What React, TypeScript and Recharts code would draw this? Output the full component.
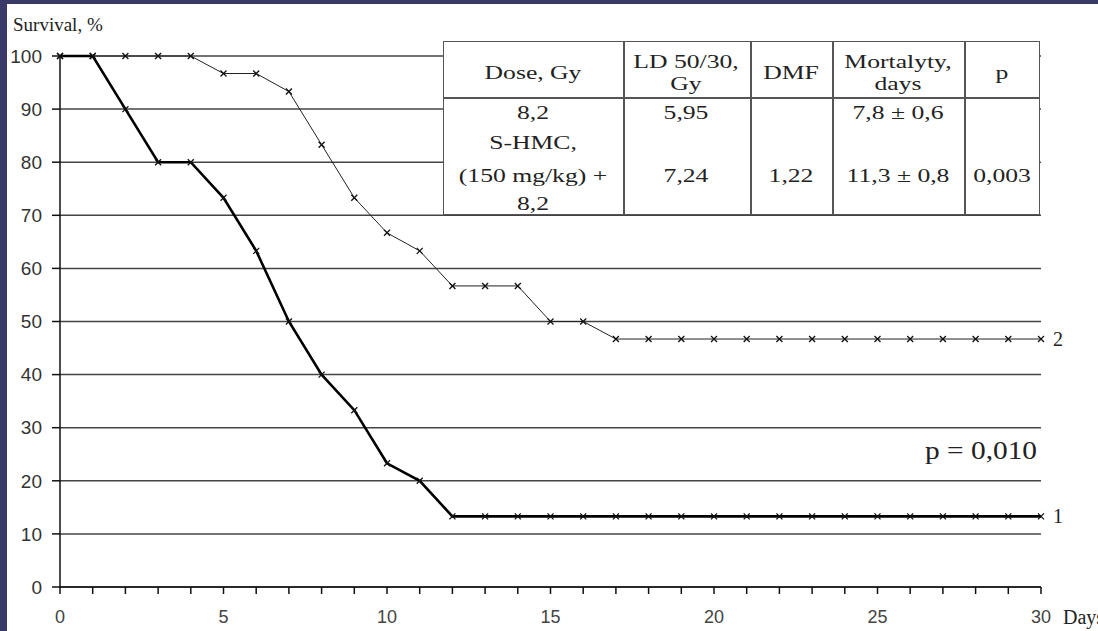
import { CartesianGrid, Line, LineChart, XAxis, YAxis } from "recharts";

const days = [
  0, 1, 2, 3, 4, 5, 6, 7, 8, 9, 10, 11, 12, 13, 14, 15, 16, 17, 18, 19, 20, 21,
  22, 23, 24, 25, 26, 27, 28, 29, 30,
];

// curve 1: 8,2 Gy alone
const survivalControl = [
  100, 100, 90, 80, 80, 73.3, 63.3, 50, 40, 33.3, 23.3, 20, 13.3, 13.3, 13.3,
  13.3, 13.3, 13.3, 13.3, 13.3, 13.3, 13.3, 13.3, 13.3, 13.3, 13.3, 13.3, 13.3,
  13.3, 13.3, 13.3,
];

// curve 2: S-HMC (150 mg/kg) + 8,2 Gy
const survivalShmc = [
  100, 100, 100, 100, 100, 96.7, 96.7, 93.3, 83.3, 73.3, 66.7, 63.3, 56.7, 56.7,
  56.7, 50, 50, 46.7, 46.7, 46.7, 46.7, 46.7, 46.7, 46.7, 46.7, 46.7, 46.7, 46.7,
  46.7, 46.7, 46.7,
];

const yTicks = [0, 10, 20, 30, 40, 50, 60, 70, 80, 90, 100];
const xLabels = [0, 5, 10, 15, 20, 25, 30];

const chartData = days.map((day, i) => ({
  day,
  control: survivalControl[i],
  shmc: survivalShmc[i],
}));

const SERIF = "'Liberation Serif', 'Times New Roman', serif";
const SANS = "'Liberation Sans', Arial, sans-serif";

function StarDot(props: any) {
  const { cx, cy } = props;
  if (cx == null || cy == null) return <g />;
  const s = 3;
  return (
    <g stroke="#111" strokeWidth={1.3}>
      <line x1={cx - s} y1={cy - s} x2={cx + s} y2={cy + s} />
      <line x1={cx - s} y1={cy + s} x2={cx + s} y2={cy - s} />
    </g>
  );
}

function DayTick(props: any) {
  const { x, y, payload } = props;
  const v = payload.value;
  if (!xLabels.includes(v)) return <g />;
  return (
    <g>
      <text x={x} y={y} dy="0.71em" textAnchor="middle" fill="#444" fontSize={18} fontFamily={SANS}>
        {v}
      </text>
      {v === 30 && (
        <text x={x + 22} y={y} dy="0.71em" textAnchor="start" fill="#222" fontSize={20} fontFamily={SERIF}>
          Days
        </text>
      )}
    </g>
  );
}

function endLabel(text: string) {
  return (p: any) =>
    p.index === days.length - 1 ? (
      <text key={text} x={p.x + 12} y={p.y} dy="0.35em" fill="#222" fontSize={20} fontFamily={SERIF}>
        {text}
      </text>
    ) : (
      <g key={`${text}-${p.index}`} />
    );
}

function Txt({ x, y, children }: { x: number; y: number; children: any }) {
  return (
    <div
      style={{
        position: "absolute",
        left: x,
        top: y,
        transform: "translate(-50%, -50%) scaleX(1.35)",
        whiteSpace: "nowrap",
        fontFamily: SERIF,
        fontSize: 19,
        color: "#222",
        lineHeight: 1,
      }}
    >
      {children}
    </div>
  );
}

const tableLeft = 443;
const tableTop = 41;
const colEdges = [623, 750, 832, 964];

export default function App() {
  return (
    <div style={{ position: "absolute", left: 0, top: 0, width: 1098, height: 631, background: "#fff", overflow: "hidden" }}>
      <LineChart width={1098} height={631} data={chartData} margin={{ top: 56, right: 57, bottom: 14, left: 0 }}>
        <CartesianGrid vertical={false} stroke="#444" strokeWidth={1.5} />
        <XAxis
          dataKey="day"
          type="number"
          domain={[0, 30]}
          ticks={days}
          interval={0}
          tick={<DayTick />}
          tickSize={7}
          tickMargin={16}
          stroke="#111"
          strokeWidth={1.5}
        />
        <YAxis
          width={60}
          domain={[0, 100]}
          ticks={yTicks}
          interval={0}
          tickSize={8}
          tickMargin={10}
          stroke="#111"
          strokeWidth={1.5}
          tick={{ fill: "#333", fontSize: 19, fontFamily: SANS }}
        />
        <Line
          type="linear"
          dataKey="shmc"
          stroke="#222"
          strokeWidth={1}
          dot={<StarDot />}
          label={endLabel("2")}
          isAnimationActive={false}
        />
        <Line
          type="linear"
          dataKey="control"
          stroke="#000"
          strokeWidth={2.6}
          dot={<StarDot />}
          label={endLabel("1")}
          isAnimationActive={false}
        />
      </LineChart>

      {/* axis title */}
      <div style={{ position: "absolute", left: 13, top: 15, fontFamily: SERIF, fontSize: 19, color: "#222", lineHeight: 1 }}>
        Survival, %
      </div>

      {/* log-rank note */}
      <div
        style={{
          position: "absolute",
          left: 925,
          top: 438,
          fontFamily: SERIF,
          fontSize: 26,
          color: "#222",
          lineHeight: 1,
          whiteSpace: "nowrap",
          transform: "scaleX(1.13)",
          transformOrigin: "left center",
        }}
      >
        p = 0,010
      </div>

      {/* summary table */}
      <div
        style={{
          position: "absolute",
          left: tableLeft,
          top: tableTop,
          width: 597,
          height: 174,
          background: "#fff",
          border: "1.5px solid #555",
          boxSizing: "border-box",
        }}
      />
      {colEdges.map((x) => (
        <div key={x} style={{ position: "absolute", left: x, top: tableTop, width: 1.5, height: 174, background: "#555" }} />
      ))}
      <div style={{ position: "absolute", left: tableLeft, top: 97, width: 597, height: 1.5, background: "#555" }} />

      <Txt x={533} y={72}>Dose, Gy</Txt>
      <Txt x={686} y={61}>LD 50/30,</Txt>
      <Txt x={686} y={83}>Gy</Txt>
      <Txt x={791} y={72}>DMF</Txt>
      <Txt x={898} y={61}>Mortalyty,</Txt>
      <Txt x={898} y={83}>days</Txt>
      <Txt x={1002} y={72}>p</Txt>

      <Txt x={533} y={112}>8,2</Txt>
      <Txt x={533} y={142}>S-HMC,</Txt>
      <Txt x={533} y={175}>(150 mg/kg) +</Txt>
      <Txt x={533} y={203}>8,2</Txt>
      <Txt x={686} y={112}>5,95</Txt>
      <Txt x={686} y={175}>7,24</Txt>
      <Txt x={791} y={175}>1,22</Txt>
      <Txt x={898} y={112}>7,8 ± 0,6</Txt>
      <Txt x={898} y={175}>11,3 ± 0,8</Txt>
      <Txt x={1002} y={175}>0,003</Txt>

      {/* slide frame */}
      <div style={{ position: "absolute", left: 0, top: 0, width: 7, height: 631, background: "#3a3a68" }} />
      <div style={{ position: "absolute", left: 0, top: 0, width: 1098, height: 4, background: "#3a3a68" }} />
    </div>
  );
}
